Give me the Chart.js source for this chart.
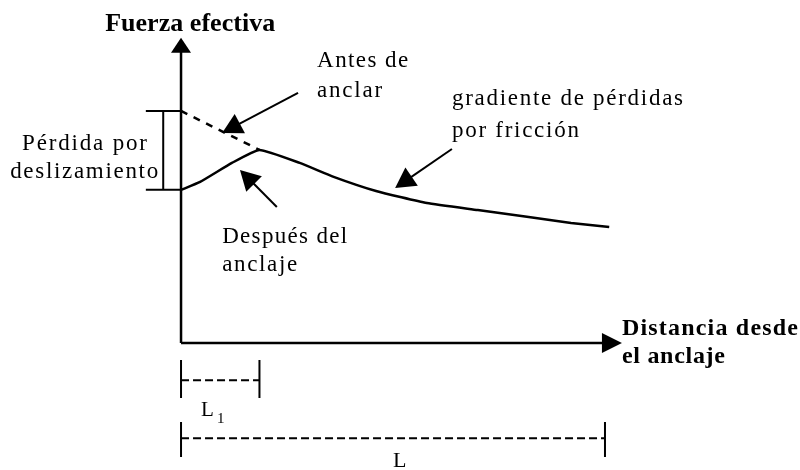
<!DOCTYPE html>
<html>
<head>
<meta charset="utf-8">
<script src="https://cdn.jsdelivr.net/npm/chart.js@4/dist/chart.umd.min.js"></script>
<style>
html, body { margin: 0; padding: 0; background: #fff; }
#chart { display: block; }
</style>
</head>
<body>
<canvas id="chart" width="800" height="470"></canvas>
<script>
// Esquema: fuerza efectiva vs distancia desde el anclaje (L = 10, Fo = 10)
var distancia      = [0, 0.45, 1.2, 1.85, 2.8, 3.6, 4.6, 5.8, 7.0, 8.2, 9.2, 10.1];
var fuerzaDespues  = [6.6, 6.94, 7.76, 8.32, 7.76, 7.16, 6.55, 6.03, 5.73, 5.43, 5.17, 5.0];
var distanciaAntes = [0, 1.85];
var fuerzaAntes    = [10, 8.32];
var longL1 = 1.85;
var longL  = 10;

// etiquetas (posición en unidades del esquema, w = ancho aproximado en px)
var SERIF = '"Liberation Serif", "DejaVu Serif", serif';
var textos = [
    { t: 'Fuerza efectiva',       x: -1.79, y: 13.45,  bold: true, size: 26, w: 170 },
    { t: 'Antes de',              x: 3.21,  y: 11.9,   size: 23, w: 91 },
    { t: 'anclar',                x: 3.21,  y: 10.6,   size: 23, w: 65 },
    { t: 'gradiente de pérdidas', x: 6.39,  y: 10.26,  size: 23, w: 231 },
    { t: 'por fricción',          x: 6.39,  y: 8.88,   size: 23, w: 127 },
    { t: 'Después del',           x: 0.97,  y: 4.31,   size: 23, w: 125 },
    { t: 'anclaje',               x: 0.97,  y: 3.1,    size: 23, w: 75 },
    { t: 'Pérdida por',           x: -3.75, y: 8.32,   size: 23, w: 125 },
    { t: 'deslizamiento',         x: -4.03, y: 7.11,   size: 23, w: 148 },
    { t: 'Distancia desde',       x: 10.4,  y: 0.345,  bold: true, size: 24, w: 176 },
    { t: 'el anclaje',            x: 10.4,  y: -0.862, bold: true, size: 24, w: 103 },
    { t: 'L',                     x: 0.47,  y: -3.15,  size: 21 },
    { t: '1',                     x: 0.85,  y: -3.45,  size: 15 },
    { t: 'L',                     x: 5.0,   y: -5.35,  size: 22 }
];
var flechas = [
    { de: [2.76, 10.78], a: [0.97, 9.05] },
    { de: [2.26, 5.86],  a: [1.39, 7.46] },
    { de: [6.39, 8.36],  a: [5.05, 6.68] }
];

function punta(ctx, x1, y1, x2, y2, largo, ancho) {
    var ang = Math.atan2(y2 - y1, x2 - x1);
    ctx.save();
    ctx.translate(x2, y2);
    ctx.rotate(ang);
    ctx.beginPath();
    ctx.moveTo(0, 0);
    ctx.lineTo(-largo, -ancho / 2);
    ctx.lineTo(-largo, ancho / 2);
    ctx.closePath();
    ctx.fill();
    ctx.restore();
}

var esquema = {
    id: 'esquema',
    afterDatasetsDraw: function(chart) {
        var ctx = chart.ctx, xs = chart.scales.x, ys = chart.scales.y;
        var X = function(v) { return xs.getPixelForValue(v); };
        var Y = function(v) { return ys.getPixelForValue(v); };
        ctx.save();
        ctx.strokeStyle = '#000';
        ctx.fillStyle = '#000';
        ctx.lineCap = 'butt';

        // ejes
        ctx.lineWidth = 2.5;
        ctx.beginPath();
        ctx.moveTo(X(0), Y(0)); ctx.lineTo(X(0), Y(12.6));
        ctx.moveTo(X(0), Y(0)); ctx.lineTo(X(9.95), Y(0));
        ctx.stroke();
        punta(ctx, X(0), Y(0), X(0), Y(13.15), 15, 20);
        punta(ctx, X(0), Y(0), X(10.4), Y(0), 20, 20);

        // corchete pérdida por deslizamiento
        ctx.lineWidth = 2;
        ctx.beginPath();
        ctx.moveTo(X(-0.83), Y(fuerzaAntes[0]));   ctx.lineTo(X(0), Y(fuerzaAntes[0]));
        ctx.moveTo(X(-0.83), Y(fuerzaDespues[0])); ctx.lineTo(X(0), Y(fuerzaDespues[0]));
        ctx.moveTo(X(-0.42), Y(fuerzaAntes[0]));   ctx.lineTo(X(-0.42), Y(fuerzaDespues[0]));
        ctx.stroke();

        // cotas L1 y L
        [[longL1, -0.73, -2.37, -1.6], [longL, -3.4, -4.91, -4.1]].forEach(function(c) {
            ctx.setLineDash([]);
            ctx.lineWidth = 2;
            ctx.beginPath();
            ctx.moveTo(X(0), Y(c[1]));    ctx.lineTo(X(0), Y(c[2]));
            ctx.moveTo(X(c[0]), Y(c[1])); ctx.lineTo(X(c[0]), Y(c[2]));
            ctx.stroke();
            ctx.setLineDash([8, 4]);
            ctx.beginPath();
            ctx.moveTo(X(0), Y(c[3])); ctx.lineTo(X(c[0]), Y(c[3]));
            ctx.stroke();
        });
        ctx.setLineDash([]);

        // flechas de las etiquetas
        ctx.lineWidth = 2;
        flechas.forEach(function(f) {
            var x1 = X(f.de[0]), y1 = Y(f.de[1]), x2 = X(f.a[0]), y2 = Y(f.a[1]);
            var d = Math.hypot(x2 - x1, y2 - y1), k = (d - 14) / d;
            ctx.beginPath();
            ctx.moveTo(x1, y1);
            ctx.lineTo(x1 + (x2 - x1) * k, y1 + (y2 - y1) * k);
            ctx.stroke();
            punta(ctx, x1, y1, x2, y2, 20, 22);
        });

        // textos (espaciado ajustado al ancho del original)
        ctx.textBaseline = 'alphabetic';
        ctx.textAlign = 'left';
        textos.forEach(function(s) {
            ctx.font = (s.bold ? 'bold ' : '') + s.size + 'px ' + SERIF;
            ctx.letterSpacing = '0px';
            if (s.w) {
                var m = ctx.measureText(s.t).width;
                ctx.letterSpacing = ((s.w - m) / (s.t.length - 1)).toFixed(2) + 'px';
            }
            ctx.fillText(s.t, X(s.x), Y(s.y));
        });
        ctx.restore();
    }
};

new Chart(document.getElementById('chart'), {
    type: 'scatter',
    data: {
        datasets: [
            {
                label: 'Después del anclaje',
                data: distancia.map(function(d, i) { return { x: d, y: fuerzaDespues[i] }; }),
                showLine: true,
                borderColor: '#000',
                borderWidth: 2.5,
                pointRadius: 0,
                tension: 0.15
            },
            {
                label: 'Antes de anclar',
                data: distanciaAntes.map(function(d, i) { return { x: d, y: fuerzaAntes[i] }; }),
                showLine: true,
                borderColor: '#000',
                borderWidth: 2.5,
                borderDash: [7, 7],
                pointRadius: 0
            }
        ]
    },
    options: {
        responsive: false,
        animation: false,
        layout: { padding: 0 },
        plugins: { legend: { display: false }, tooltip: { enabled: false } },
        scales: {
            x: { type: 'linear', display: false, min: -4.27, max: 14.6 },
            y: { type: 'linear', display: false, min: -5.47, max: 14.78 }
        }
    },
    plugins: [esquema]
});
</script>
</body>
</html>
